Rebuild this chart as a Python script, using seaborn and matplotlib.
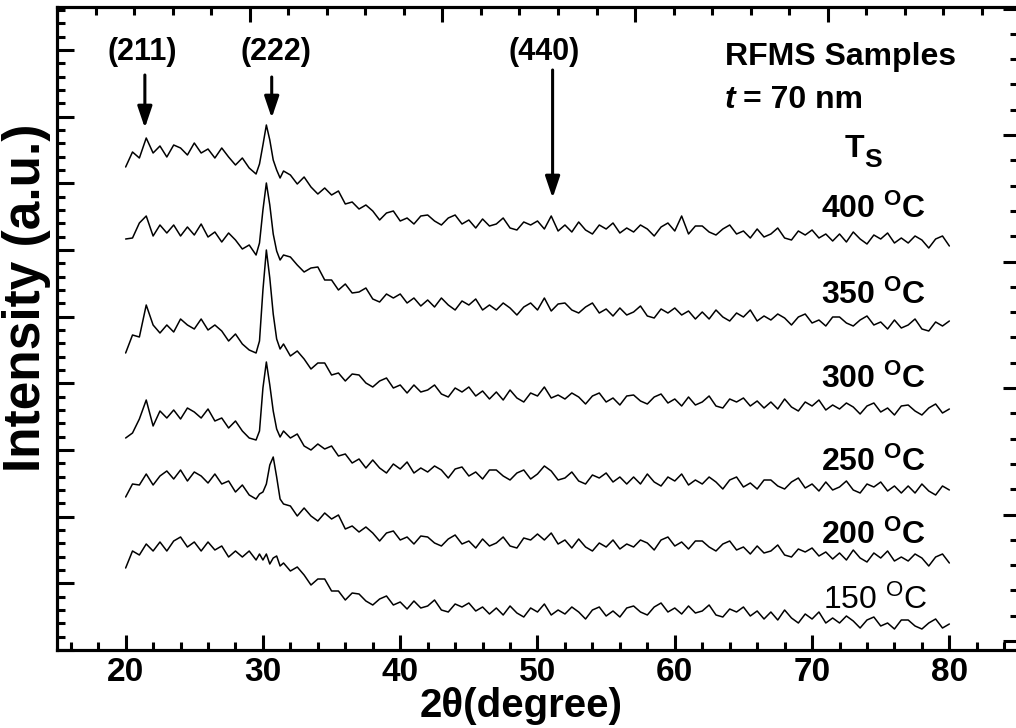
import numpy as np
import pandas as pd
import matplotlib
matplotlib.use("Agg")
import matplotlib.pyplot as plt
from matplotlib.ticker import MultipleLocator, NullFormatter
import seaborn as sns

# 2theta sampling (finer around the (222) reflection)
two_theta = np.concatenate([np.arange(20, 29.5, 0.5),
                            np.arange(29.5, 31.75, 0.25),
                            np.arange(32, 80.5, 0.5)])

temps = ['150', '200', '250', '300', '350', '400']

# stacked intensities (a.u.)
i150 = [82, 99, 95, 106, 99, 108, 99, 109, 113, 103, 108, 99, 108, 100, 104, 93, 99, 93, 99,
        90, 96, 90, 96, 86, 92, 94, 84, 87,
        79, 83, 75, 65, 71, 71, 59, 59, 50, 57,
        56, 49, 45, 51, 54, 45, 48, 41, 49, 42,
        44, 50, 40, 38, 46, 43, 47, 39, 43, 36,
        42, 35, 44, 37, 33, 42, 38, 46, 35, 40,
        36, 43, 38, 31, 40, 43, 34, 39, 33, 42,
        44, 38, 35, 43, 47, 38, 42, 36, 44, 37,
        39, 45, 35, 33, 41, 38, 43, 34, 39, 31,
        38, 30, 40, 32, 27, 36, 31, 38, 27, 32,
        27, 34, 29, 22, 30, 33, 24, 27, 21, 30,
        30, 24, 21, 27, 31, 22, 26]
i200 = [153, 166, 165, 176, 165, 174, 179, 171, 180, 169, 178, 174, 167, 176, 166, 169, 158, 165, 155,
        151, 156, 158, 166, 185, 193, 173, 151, 146,
        144, 134, 142, 134, 129, 137, 131, 135, 121, 124,
        118, 123, 117, 109, 117, 119, 110, 113, 106, 114,
        113, 107, 104, 111, 115, 106, 109, 102, 111, 104,
        107, 113, 104, 102, 112, 110, 116, 110, 117, 106,
        110, 102, 111, 103, 99, 107, 103, 110, 101, 106,
        103, 110, 107, 100, 110, 113, 104, 108, 101, 109,
        109, 103, 99, 106, 109, 100, 103, 96, 104, 97,
        99, 105, 95, 93, 101, 98, 102, 94, 98, 91,
        97, 90, 100, 92, 88, 97, 92, 99, 89, 93,
        89, 96, 92, 84, 93, 96, 87]
i250 = [212, 217, 231, 250, 224, 239, 232, 240, 231, 242, 238, 232, 241, 229, 232, 222, 229, 219, 212,
        210, 219, 262, 288, 265, 239, 221, 213, 219,
        212, 216, 204, 200, 206, 201, 204, 194, 196, 187,
        191, 182, 190, 182, 177, 186, 181, 188, 177, 182,
        178, 184, 180, 172, 181, 183, 174, 178, 171, 180,
        180, 174, 170, 177, 180, 171, 176, 184, 179, 170,
        172, 178, 169, 166, 175, 172, 177, 168, 173, 166,
        173, 166, 176, 168, 164, 173, 169, 176, 165, 170,
        166, 173, 168, 161, 170, 173, 163, 167, 161, 170,
        170, 164, 161, 168, 172, 162, 166, 159, 168, 160,
        163, 169, 160, 157, 166, 163, 168, 159, 164, 157,
        164, 157, 166, 159, 155, 164, 160]
i300 = [297, 315, 313, 345, 325, 317, 325, 318, 331, 325, 321, 331, 320, 325, 319, 309, 316, 306, 300,
        297, 309, 360, 400, 372, 336, 311, 301, 306,
        294, 299, 291, 281, 287, 287, 275, 277, 269, 276,
        275, 267, 263, 269, 272, 262, 265, 257, 265, 258,
        260, 265, 256, 253, 262, 258, 263, 254, 259, 251,
        258, 250, 260, 252, 248, 257, 254, 263, 252, 255,
        251, 257, 253, 246, 254, 257, 248, 252, 245, 254,
        255, 249, 246, 253, 256, 247, 251, 244, 253, 245,
        248, 254, 244, 242, 251, 248, 252, 244, 249, 242,
        248, 241, 251, 243, 239, 248, 244, 250, 240, 245,
        241, 247, 243, 236, 244, 247, 238, 242, 235, 244,
        245, 239, 235, 242, 246, 237, 241]
i350 = [411, 412, 427, 434, 414, 425, 417, 425, 414, 423, 415, 426, 413, 418, 408, 417, 410, 401, 405,
        395, 407, 440, 467, 445, 416, 399, 390, 395,
        393, 385, 378, 382, 383, 370, 370, 360, 366, 357,
        358, 362, 351, 348, 356, 352, 356, 347, 352, 344,
        350, 343, 352, 345, 340, 349, 345, 351, 340, 345,
        340, 347, 342, 335, 343, 347, 340, 352, 339, 346,
        347, 340, 337, 343, 347, 337, 341, 334, 342, 335,
        338, 344, 334, 332, 341, 337, 342, 335, 339, 331,
        338, 331, 340, 333, 329, 337, 333, 340, 329, 334,
        330, 336, 332, 325, 333, 336, 327, 330, 324, 333,
        333, 327, 324, 330, 334, 325, 328, 321, 330, 322,
        325, 331, 321, 319, 328, 324, 329]
i400 = [483, 498, 492, 512, 497, 504, 493, 505, 502, 495, 507, 497, 501, 492, 502, 493, 485, 492, 482,
        476, 486, 505, 525, 510, 490, 480, 472, 479,
        475, 466, 473, 463, 456, 462, 455, 459, 446, 448,
        441, 445, 439, 430, 437, 439, 429, 432, 426, 434,
        435, 429, 425, 432, 435, 426, 430, 422, 431, 424,
        426, 432, 422, 420, 428, 425, 429, 421, 434, 419,
        425, 418, 428, 420, 416, 425, 421, 427, 417, 422,
        418, 425, 421, 414, 423, 427, 419, 434, 416, 424,
        424, 418, 415, 421, 425, 416, 419, 412, 421, 413,
        416, 422, 412, 410, 419, 415, 420, 412, 416, 409,
        416, 408, 418, 411, 406, 415, 411, 417, 407, 412,
        407, 414, 410, 402, 411, 414, 404]

curves = [i150, i200, i250, i300, i350, i400]
for c in curves:
    assert len(c) == len(two_theta), len(c)

df = pd.concat([pd.DataFrame({'two_theta': two_theta, 'intensity': c, 'Ts': t})
                for c, t in zip(curves, temps)], ignore_index=True)

sns.set_style('ticks', rc={'axes.edgecolor': 'black', 'xtick.color': 'black',
                           'ytick.color': 'black', 'text.color': 'black',
                           'axes.labelcolor': 'black'})
plt.rcParams['font.family'] = ['Liberation Sans', 'DejaVu Sans']
plt.rcParams['mathtext.fontset'] = 'custom'
plt.rcParams['mathtext.rm'] = 'Liberation Sans'
plt.rcParams['mathtext.bf'] = 'Liberation Sans:bold'
plt.rcParams['mathtext.it'] = 'Liberation Sans:italic'

fig = plt.figure(figsize=(10.16, 7.28), dpi=100)
ax = fig.add_axes([57 / 1016, 78 / 728, 961 / 1016, 643 / 728])

for t in temps:
    sub = df[df['Ts'] == t]
    sns.lineplot(data=sub, x='two_theta', y='intensity', ax=ax, color='black',
                 lw=1.1, estimator=None, sort=False, legend=False)

ax.set_xlim(15, 85)
ax.set_ylim(0, 643)

lw_sp = 2.2
for s in ax.spines.values():
    s.set_linewidth(lw_sp)
    s.set_visible(True)

ax.xaxis.set_major_locator(MultipleLocator(10))
ax.xaxis.set_minor_locator(MultipleLocator(2))
ax.yaxis.set_major_locator(MultipleLocator(200 / 3))
ax.yaxis.set_minor_locator(MultipleLocator(40 / 3))
ax.yaxis.set_major_formatter(NullFormatter())
ax.tick_params(axis='x', which='major', direction='in', length=10.8, width=2.2,
               labelsize=24, pad=5, top=False)
ax.tick_params(axis='x', which='minor', direction='in', length=5.8, width=2.2, top=False)
ax.tick_params(axis='y', which='major', direction='in', length=12, width=2.2, right=False)
ax.tick_params(axis='y', which='minor', direction='in', length=5.8, width=2.2, right=False)
for lab in ax.get_xticklabels():
    lab.set_fontweight('bold')

# twin axes for the independent top/right tick marks
ax_r = ax.twinx()
ax_r.set_ylim(0, 643)
ax_r.yaxis.set_major_locator(MultipleLocator(126.5, offset=9))
ax_r.yaxis.set_minor_locator(MultipleLocator(25.3, offset=9))
ax_r.yaxis.set_major_formatter(NullFormatter())
ax_r.tick_params(axis='y', which='major', direction='in', length=10.8, width=2.2)
ax_r.tick_params(axis='y', which='minor', direction='in', length=5.8, width=2.2)

ax_t = ax.twiny()
ax_t.set_xlim(15, 85)
ax_t.xaxis.set_major_locator(MultipleLocator(14.035, offset=15))
ax_t.xaxis.set_minor_locator(MultipleLocator(2.807, offset=15))
ax_t.xaxis.set_major_formatter(NullFormatter())
ax_t.tick_params(axis='x', which='major', direction='in', length=10.8, width=2.2)
ax_t.tick_params(axis='x', which='minor', direction='in', length=5.8, width=2.2)
for a in (ax_r, ax_t):
    for s in a.spines.values():
        s.set_linewidth(lw_sp)

ax.set_xlabel('2θ(degree)', fontsize=29, fontweight='bold')
ax.xaxis.set_label_coords(0.483, -0.058)
ax.set_ylabel('Intensity (a.u.)', fontsize=37, fontweight='bold')
ax.yaxis.set_label_coords(-0.006, 0.548)

# reflections
arrow = dict(arrowstyle='-|>,head_length=0.65,head_width=0.22', lw=2.2,
             color='black', mutation_scale=20, shrinkA=0, shrinkB=0)
for lab, tx, axx, y0, y1 in [('(211)', 21.23, 21.4, 575, 522),
                             ('(222)', 30.95, 30.64, 573, 532),
                             ('(440)', 50.47, 51.1, 580, 452)]:
    ax.text(tx, 590, lab, ha='center', va='baseline', fontsize=22, fontweight='bold')
    ax.annotate('', xy=(axx, y1), xytext=(axx, y0), arrowprops=arrow)

ax.text(63.65, 585, 'RFMS Samples', fontsize=23, fontweight='bold', va='baseline')
ax.text(63.65, 542, 't', fontsize=23, fontweight='bold', style='italic', va='baseline')
ax.text(64.96, 542, '= 70 nm', fontsize=23, fontweight='bold', va='baseline')
ax.text(72.4, 493, 'T', fontsize=23, fontweight='bold', va='baseline')
ax.text(73.8, 483, 'S', fontsize=19, fontweight='bold', va='baseline')

label_y = [41, 106, 179, 262, 346, 432]
for t, yb in zip(temps, label_y):
    if t == '150':
        ax.text(70.8, yb, t + r' $^{\mathrm{O}}$C', fontsize=23, va='baseline')
    else:
        ax.text(70.65, yb, t + r' $^{\mathbf{O}}$C', fontsize=23, fontweight='bold',
                va='baseline')

fig.savefig('out.png', dpi=100)
